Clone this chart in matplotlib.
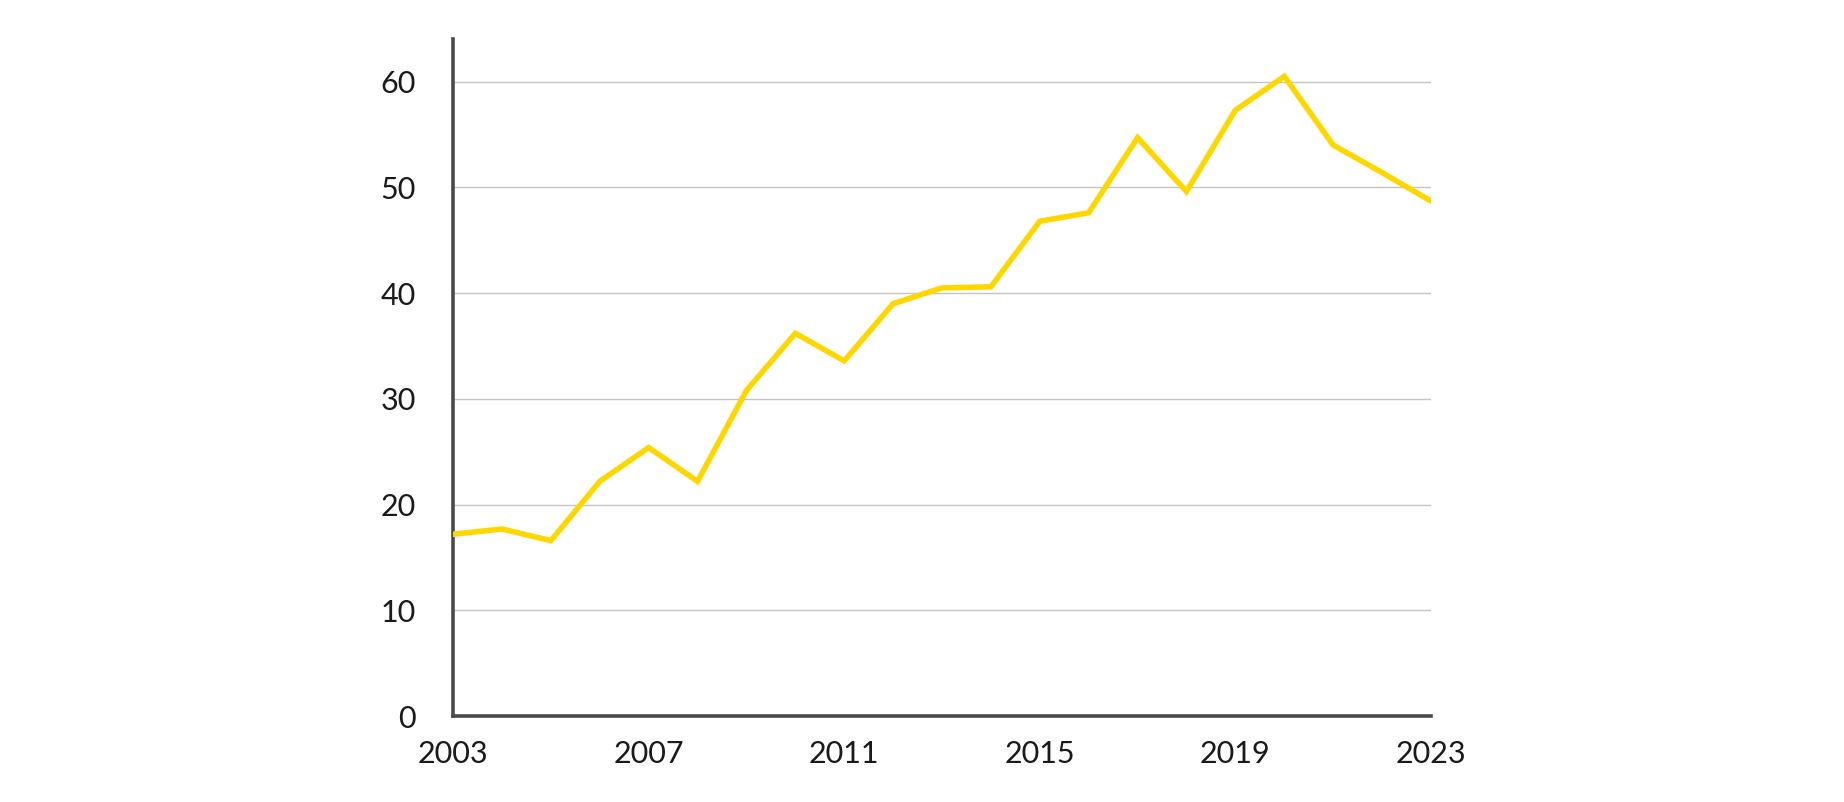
import matplotlib
matplotlib.use("Agg")
import matplotlib.pyplot as plt

# values
years = [2003, 2004, 2005, 2006, 2007, 2008, 2009, 2010, 2011, 2012, 2013,
         2014, 2015, 2016, 2017, 2018, 2019, 2020, 2021, 2022, 2023]
values = [17.2, 17.7, 16.6, 22.2, 25.4, 22.2, 30.8, 36.2, 33.6, 39.0, 40.5,
          40.6, 46.8, 47.6, 54.7, 49.6, 57.3, 60.5, 54.0, 51.4, 48.7]
xticks = [2003, 2007, 2011, 2015, 2019, 2023]
yticks = [0, 10, 20, 30, 40, 50, 60]

plt.rcParams['font.family'] = ['Lato', 'DejaVu Sans']

fig = plt.figure(figsize=(18.44, 8.02), dpi=100)
ax = fig.add_axes([0.2457, 0.107, 0.776 - 0.2457, 0.951 - 0.107])

for y in yticks[1:]:
    ax.axhline(y, color='#c4c4c4', lw=1, zorder=1)

ax.plot(years, values, color='#ffd700', lw=4, solid_joinstyle='miter',
        solid_capstyle='round', zorder=3)

ax.set_xlim(2003, 2023)
ax.set_ylim(0, 64)
ax.set_xticks(xticks)
ax.set_yticks(yticks)
ax.tick_params(axis='both', length=0, labelsize=22, colors='#1a1a1a')
ax.tick_params(axis='y', pad=27)
ax.tick_params(axis='x', pad=17)

for s in ['top', 'right']:
    ax.spines[s].set_visible(False)
for s in ['left', 'bottom']:
    ax.spines[s].set_color('#4a4a4a')
    ax.spines[s].set_linewidth(2.6)

fig.savefig('out.png', dpi=100)
